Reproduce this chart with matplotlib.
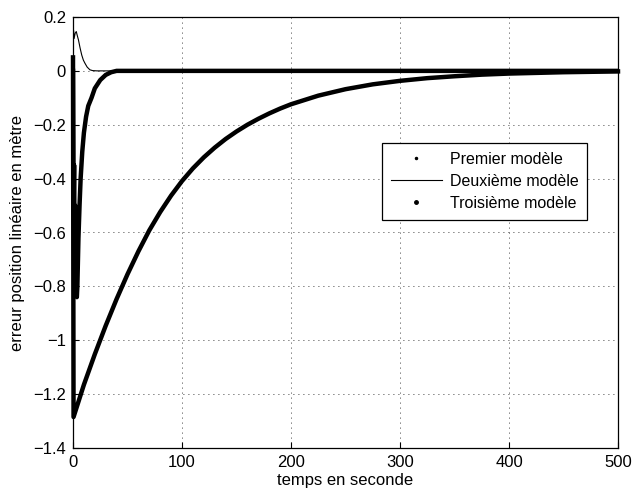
import numpy as np
import matplotlib
matplotlib.use('Agg')
import matplotlib.pyplot as plt
from matplotlib.lines import Line2D

plt.rcParams['font.family'] = ['Liberation Sans', 'DejaVu Sans']
plt.rcParams['font.size'] = 12

# premier modele (fast, thick)
t1 = [0, 0.5, 1, 1.5, 2, 2.5, 3, 3.5, 4, 5, 6, 7, 8.5, 10, 12, 14, 17, 20, 25, 30, 35, 40, 50, 500]
y1 = [0.0, -0.55, -0.35, -0.7, -0.5, -0.78, -0.6, -0.84, -0.8, -0.62, -0.5, -0.4, -0.3, -0.23, -0.17, -0.13, -0.1, -0.065, -0.034, -0.015, -0.005, 0.0, 0.0, 0.0]

# deuxieme modele (thin)
t2 = [0, 0.5, 1, 2, 3, 4, 5, 6.5, 8, 9.5, 11, 13, 15.5, 18, 22, 500]
y2 = [0.05, 0.15, 0.12, 0.14, 0.146, 0.13, 0.115, 0.085, 0.059, 0.04, 0.028, 0.014, 0.004, 0.001, 0.0, 0.0]

# troisieme modele (slow, thick)
t3 = [0, 0.5, 10, 20, 30, 40, 50, 60, 70, 80, 90, 100, 110, 120, 130, 140, 150, 160, 170, 180, 190, 200,
      225, 250, 275, 300, 325, 350, 375, 400, 450, 500]
y3 = [0.05, -1.285, -1.165, -1.052, -0.946, -0.847, -0.755, -0.670, -0.592, -0.524, -0.463, -0.409,
      -0.362, -0.321, -0.285, -0.253, -0.225, -0.2, -0.178, -0.158, -0.14, -0.124,
      -0.092, -0.068, -0.05, -0.037, -0.027, -0.02, -0.014, -0.01, -0.005, -0.002]

xticks = [0, 100, 200, 300, 400, 500]
yticks = [-1.4, -1.2, -1.0, -0.8, -0.6, -0.4, -0.2, 0.0, 0.2]
ytick_labels = ['\u22121.4', '\u22121.2', '\u22121', '\u22120.8', '\u22120.6', '\u22120.4', '\u22120.2', '0', '0.2']
legend_labels = ['Premier modèle', 'Deuxième modèle', 'Troisième modèle']

fig = plt.figure(figsize=(6.36, 4.94), dpi=100)
ax = fig.add_axes([73/636, 1 - 448/494, 545/636, 431/494])

ax.plot(t3, y3, color='black', lw=3.2, solid_joinstyle='round', clip_on=False)
ax.plot(t1, y1, color='black', lw=3.2, solid_joinstyle='round')
ax.plot(t2, y2, color='black', lw=0.8)

ax.set_xlim(0, 500)
ax.set_ylim(-1.4, 0.2)
ax.set_xticks(xticks)
ax.set_xticklabels([str(v) for v in xticks])
ax.set_yticks(yticks)
ax.set_yticklabels(ytick_labels)
ax.tick_params(direction='in', length=4, width=0.8, pad=5)
ax.grid(True, linestyle=(0, (1, 5)), color='black', lw=0.6)
for s in ax.spines.values():
    s.set_linewidth(0.9)

ax.set_xlabel('temps en seconde', labelpad=2)
ax.set_ylabel('erreur position linéaire en mètre', labelpad=6)

handles = [
    Line2D([], [], color='black', marker='.', markersize=3, linestyle='none'),
    Line2D([], [], color='black', lw=0.8),
    Line2D([], [], color='black', marker='.', markersize=5, linestyle='none'),
]
leg = ax.legend(handles, legend_labels, loc='upper left', bbox_to_anchor=(0.567, 0.708),
                fancybox=False, framealpha=1, edgecolor='black', labelspacing=0.45,
                handlelength=3.2, borderpad=0.55, handletextpad=0.5, borderaxespad=0,
                fontsize=11.5)
leg.get_frame().set_linewidth(0.9)

fig.savefig('out.png', dpi=100)
